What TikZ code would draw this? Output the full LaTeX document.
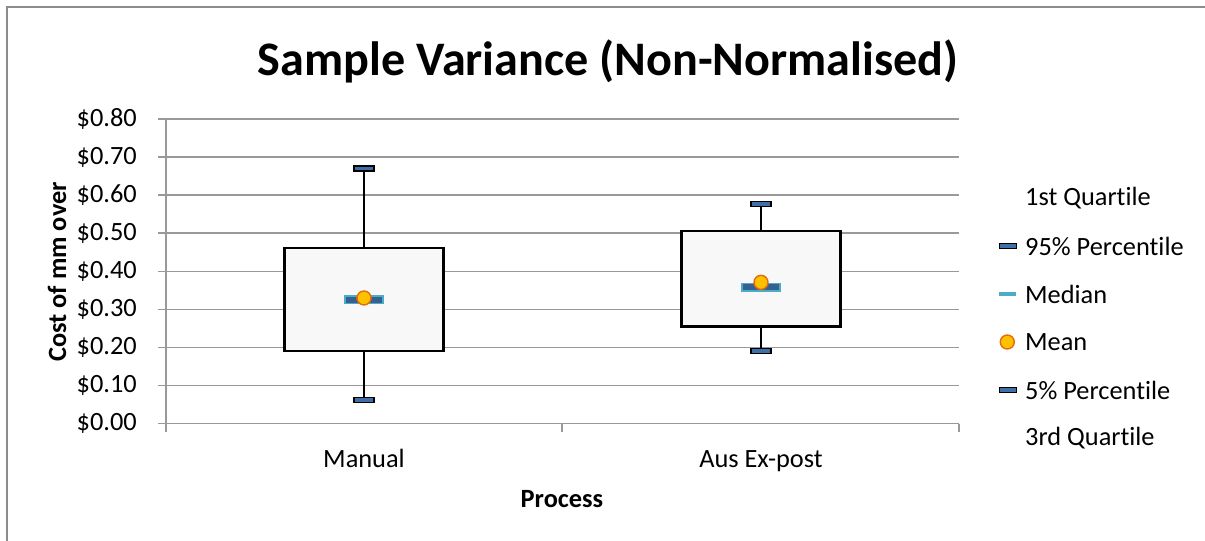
\documentclass[tikz,border=0pt]{standalone}
\usepackage{fontspec}
\setmainfont{Carlito}[Ligatures=NoCommon]
\usetikzlibrary{positioning,calc}
\definecolor{capblue}{HTML}{3F6FA8}
\definecolor{medblue}{HTML}{376092}
\definecolor{medteal}{HTML}{4BACC6}
\definecolor{meanfill}{HTML}{FFC000}
\definecolor{meanedge}{HTML}{E46C0A}
\definecolor{boxfill}{HTML}{F8F8F8}
\tikzset{
    grid color/.style={black!40},
    grid line/.style={grid color,line width=0.9pt},
    frame line/.style={black!45,line width=0.8pt},
    box style/.style={draw=black,fill=boxfill,line width=1.2pt},
    whisker/.style={black,line width=0.9pt},
    cap mark/.style={draw=black,fill=capblue,line width=0.7pt,minimum width=0.4cm,minimum height=0.1cm,inner sep=0pt},
    median mark/.style={draw=medteal,fill=medblue,line width=0.8pt,minimum width=0.76cm,minimum height=0.15cm,inner sep=0pt},
    mean mark/.style={circle,draw=meanedge,fill=meanfill,line width=0.8pt,minimum size=0.28cm,inner sep=0pt},
    tick label/.style={anchor=east,font=\fontsize{15}{17}\selectfont},
    cat label/.style={anchor=base,font=\fontsize{15}{17}\selectfont},
    legend label/.style={anchor=west,font=\fontsize{15}{17}\selectfont},
    axis title/.style={font=\fontsize{15}{17}\selectfont\bfseries},
}

\begin{document}
\begin{tikzpicture}[x=0.02cm,y=-0.02cm]
    \useasboundingbox (0,0) rectangle (1205,541);
    % chart frame (only left and top edges are visible)
    \draw[frame line] (7,541) -- (7,7) -- (1205,7);
    \node[font=\fontsize{27.4}{30}\selectfont\bfseries] (title) at (608,61) {Sample Variance (Non-Normalised)};

    % grid and value axis
    \foreach \i in {0,...,8} {
        \pgfmathsetmacro{\gy}{423.7-38.1*\i}
        \draw[grid line] (158,\gy) -- (959,\gy);
        \node[tick label] (ytick\i) at (143,\gy) {\$0.\i0};
    }
    \draw[grid line] (166,119) -- (166,432);
    \foreach \tx in {562,959}
        \draw[grid line] (\tx,423.7) -- (\tx,432);
    \node[axis title,rotate=90] (ytitle) at (57,272) {Cost of mm over};

    % categories
    \node[cat label] (cat1) at (364,467) {Manual};
    \node[cat label] (cat2) at (761,467) {Aus Ex-post};
    \node[axis title] (xtitle) at (562,499) {Process};

    % box plots: centre / 5% / Q1 / Q3 / 95% / median / mean / name
    \foreach \cx/\lo/\qa/\qb/\hi/\md/\mn/\nm in {
        364/0.062/0.191/0.462/0.670/0.325/0.330/man,
        761/0.191/0.255/0.506/0.576/0.358/0.371/aus} {
        \pgfmathsetmacro{\ylo}{423.7-381*\lo}
        \pgfmathsetmacro{\yqa}{423.7-381*\qa}
        \pgfmathsetmacro{\yqb}{423.7-381*\qb}
        \pgfmathsetmacro{\yhi}{423.7-381*\hi}
        \pgfmathsetmacro{\ymd}{423.7-381*\md}
        \pgfmathsetmacro{\ymn}{423.7-381*\mn}
        \coordinate (\nm-qa) at (\cx,\yqa);
        \coordinate (\nm-qb) at (\cx,\yqb);
        \draw[box style] (\cx-79.5,\yqa) rectangle (\cx+79.5,\yqb);
        \node[cap mark] (\nm-hi) at (\cx,\yhi) {};
        \node[cap mark] (\nm-lo) at (\cx,\ylo) {};
        \draw[whisker] (\nm-qb) -- (\nm-hi);
        \draw[whisker] (\nm-qa) -- (\nm-lo);
        \node[median mark] (\nm-md) at (\cx,\ymd) {};
        \node[mean mark] (\nm-mn) at (\cx,\ymn) {};
    }

    % legend
    \node[legend label] (leg1) at (1019,198) {1st Quartile};
    \node[legend label] (leg2) at (1019,246) {95\% Percentile};
    \node[legend label] (leg3) at (1019,294) {Median};
    \node[legend label] (leg4) at (1019,342) {Mean};
    \node[legend label] (leg5) at (1019,390) {5\% Percentile};
    \node[legend label] (leg6) at (1019,438) {3rd Quartile};
    \node[cap mark,minimum width=0.34cm,left=0.04cm of leg2] (key2) {};
    \node[median mark,draw=none,fill=medteal,minimum width=0.34cm,minimum height=0.08cm,left=0.04cm of leg3] (key3) {};
    \node[mean mark,left=0.08cm of leg4] (key4) {};
    \node[cap mark,minimum width=0.34cm,left=0.04cm of leg5] (key5) {};
\end{tikzpicture}
\end{document}
